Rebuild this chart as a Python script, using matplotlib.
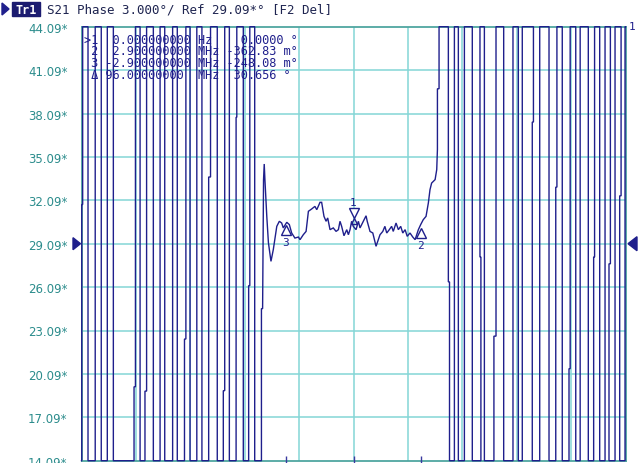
import numpy as np
import matplotlib
matplotlib.use("Agg")
import matplotlib.pyplot as plt
from matplotlib.patches import Polygon, Rectangle
from matplotlib.transforms import offset_copy

# ---------------- data ----------------
ref_deg = 29.09
scale_deg = 3.0
n_div = 10
span_mhz = 23.4
y_top = ref_deg + 5 * scale_deg   # 44.09
y_bot = ref_deg - 5 * scale_deg   # 14.09
ytick_values = [14.09, 17.09, 20.09, 23.09, 26.09, 29.09, 32.09, 35.09, 38.09, 41.09, 44.09]
ytick_labels = ["14.09*", "17.09*", "20.09*", "23.09*", "26.09*", "29.09*",
                "32.09*", "35.09*", "38.09*", "41.09*", "44.09*"]

nan = float("nan")
# out-of-band region (left): phase wraps, trace clipped at the screen edges
left_f_low = [-11.69, -11.42, -11.11, -10.85, -10.59, -10.33, -9.44, -9.18, -8.97, -8.61,
              -8.32, -8.12, -7.78, -7.58, -7.27, -7.03, -6.74, -6.52, -6.23, -5.86,
              -5.60, -5.34, -5.05, -4.74, -4.51, -4.25]
left_f_high = [-11.65, -11.42, -11.11, -10.85, -10.59, -10.33, -9.38, -9.18, -8.90, -8.61,
               -8.32, -8.12, -7.78, -7.58, -7.21, -7.03, -6.74, -6.52, -6.15, -5.86,
               -5.54, -5.34, -5.02, -4.74, -4.46, -4.25]
left_step = [31.8, nan, nan, nan, nan, nan, 19.2, nan, 18.9, nan,
             nan, nan, nan, nan, 22.5, nan, nan, nan, 33.7, nan,
             18.93, nan, 37.83, nan, 26.19, nan]

# in-band part of the trace
band_f = [-3.96, -3.96, -3.91, -3.87, -3.84, -3.81, -3.73, -3.66, -3.55, -3.45,
          -3.30, -3.19, -3.09, -3.02, -2.87, -2.76, -2.66, -2.52, -2.37, -2.30,
          -2.16, -2.04, -1.99, -1.94, -1.80, -1.66, -1.58, -1.44, -1.37, -1.27,
          -1.18, -1.11, -1.01, -0.87, -0.75, -0.65, -0.58, -0.51, -0.41, -0.29,
          -0.22, -0.15, -0.08, -0.01, 0.11, 0.21, 0.28, 0.42, 0.54, 0.59,
          0.71, 0.83, 0.97, 1.07, 1.14, 1.26, 1.35, 1.43, 1.54, 1.64,
          1.71, 1.83, 1.93, 2.03, 2.12, 2.22, 2.31, 2.43, 2.55, 2.65,
          2.72, 2.79, 2.89, 3.00, 3.12, 3.22, 3.29, 3.36, 3.51, 3.58,
          3.61, 3.61, 3.68, 3.68]
band_deg = [14.09, 24.6, 24.6, 33.5, 34.6, 33.5, 30.98, 29.16, 27.87, 28.68,
            30.29, 30.64, 30.52, 30.18, 30.57, 30.41, 29.83, 29.48, 29.55, 29.37,
            29.71, 29.94, 30.64, 31.33, 31.49, 31.67, 31.44, 31.95, 31.95, 30.98,
            30.64, 30.87, 30.06, 30.18, 29.94, 30.06, 30.64, 30.29, 29.64, 30.06,
            29.71, 30.06, 30.64, 30.29, 30.06, 30.64, 30.18, 30.64, 31.02, 30.64,
            29.94, 29.83, 28.91, 29.37, 29.71, 29.94, 30.29, 29.83, 30.06, 30.29,
            29.94, 30.52, 30.06, 30.29, 29.83, 30.06, 29.60, 29.83, 29.55, 29.37,
            29.71, 30.06, 30.41, 30.75, 30.98, 31.91, 32.82, 33.28, 33.52, 34.21,
            35.6, 39.8, 39.8, 44.09]

# out-of-band region (right)
right_f_low = [4.13, 4.34, 4.51, 4.77, 5.11, 5.48, 5.63, 6.04, 6.46, 6.86,
               7.09, 7.26, 7.69, 8.01, 8.41, 8.70, 8.98, 9.27, 9.56, 9.75,
               10.10, 10.33, 10.59, 10.82, 10.99, 11.25, 11.45, 11.68]
right_f_high = [4.08, 4.34, 4.51, 4.77, 5.11, 5.44, 5.63, 6.13, 6.46, 6.86,
                7.09, 7.26, 7.74, 8.01, 8.41, 8.75, 8.98, 9.32, 9.56, 9.75,
                10.10, 10.37, 10.59, 10.82, 11.05, 11.25, 11.51, 11.68]
right_step = [26.45, nan, nan, nan, nan, 28.17, nan, 22.7, nan, nan,
              nan, nan, 37.5, nan, nan, 33.0, nan, 20.45, nan, nan,
              nan, 28.17, nan, nan, 27.7, nan, 32.4, nan]

marker_names = ["1", "2", "3"]
marker_f = [0.0, 2.9, -2.9]
marker_deg = [30.29, 30.41, 30.57]

readout_rows = [">1  0.000000000 Hz    0.0000 \u00b0",
                " 2  2.900000000 MHz -362.83 m\u00b0",
                " 3 -2.900000000 MHz -248.08 m\u00b0",
                " \u0394 96.00000000  MHz  30.656 \u00b0"]
header_text = "S21 Phase 3.000\u00b0/ Ref 29.09*\u00b0 [F2 Del]"

# ---------------- build trace ----------------
def wraps(f_low, f_high, step, level):
    xs, ys = [], []
    for fl, fh, s in zip(f_low, f_high, step):
        if level == "bot":
            xs.append(fl); ys.append(y_bot)
            if not np.isnan(s):
                xs += [fl, fh]; ys += [s, s]
            xs.append(fh); ys.append(y_top)
            level = "top"
        else:
            xs.append(fh); ys.append(y_top)
            if not np.isnan(s):
                xs += [fh, fl]; ys += [s, s]
            xs.append(fl); ys.append(y_bot)
            level = "bot"
    return xs, ys

x_min, x_max = -span_mhz / 2, span_mhz / 2
lx, ly = wraps(left_f_low, left_f_high, left_step, "bot")
rx, ry = wraps(right_f_low, right_f_high, right_step, "top")
trace_f = [x_min] + lx + band_f + rx + [x_max]
trace_v = [y_bot] + ly + band_deg + ry + [y_top]

# ---------------- draw ----------------
W, H = 639, 464
fig = plt.figure(figsize=(W / 100, H / 100), dpi=100)
fig.patch.set_facecolor("white")

L, R, T, B = 81.5, 625.5, 27.7, 461.7
ax = fig.add_axes([L / W, 1 - B / H, (R - L) / W, (B - T) / H])
ax.set_facecolor("white")
ax.set_xlim(x_min, x_max)
ax.set_ylim(y_bot, y_top)

grid_c = "#84d6d6"
for k in range(1, n_div):
    ax.axvline(x_min + k * span_mhz / n_div, color=grid_c, lw=1.1, zorder=1)
    ax.axhline(y_bot + k * scale_deg, color=grid_c, lw=1.1, zorder=1)

for s in ax.spines.values():
    s.set_color("#4fa6a0")
    s.set_linewidth(1.3)

navy = "#1f1f8c"
ax.plot(trace_f, trace_v, color=navy, lw=1.0, zorder=3, clip_on=False,
        solid_joinstyle="miter")

ax.set_xticks([])
ax.set_yticks(ytick_values)
ax.set_yticklabels(ytick_labels)
ax.tick_params(axis="y", length=0, pad=10, labelcolor="#2b8c8c", labelsize=8.5)

# markers
mono = "DejaVu Sans Mono"
for name, f, v in zip(marker_names, marker_f, marker_deg):
    if name == "1":
        tr = offset_copy(ax.transData, fig=fig, x=0, y=13, units="dots")
        ax.plot([f], [v], transform=tr, marker="v", ms=7, mfc="white", mec=navy, mew=1.0,
                zorder=5, clip_on=False)
        tr2 = offset_copy(ax.transData, fig=fig, x=0, y=5, units="dots")
        ax.plot([f], [v], transform=tr2, marker="^", ms=5, mfc="none", mec=navy, mew=1.0,
                zorder=5, clip_on=False)
        ax.text(f, v, name, transform=offset_copy(ax.transData, fig=fig, x=0, y=24, units="dots"),
                ha="center", va="center", fontsize=8, family=mono, color=navy, zorder=6)
    else:
        tr = offset_copy(ax.transData, fig=fig, x=0, y=-8, units="dots")
        ax.plot([f], [v], transform=tr, marker="^", ms=7, mfc="white", mec=navy, mew=1.0,
                zorder=5, clip_on=False)
        ax.text(f, v, name, transform=offset_copy(ax.transData, fig=fig, x=0, y=-20, units="dots"),
                ha="center", va="center", fontsize=8, family=mono, color=navy, zorder=6)
    ax.plot([f], [y_bot], marker="|", ms=7, mew=1.0, color="#3a3aa0", clip_on=False, zorder=4)

# marker readout table
for i, row in enumerate(readout_rows):
    fig.text(84 / W, 1 - (40 + i * 11.8) / H, row, family=mono, fontsize=8.6,
             color=navy, ha="left", va="center", zorder=7)

def fx(x):
    return x / W

def fy(y):
    return 1 - y / H

# header
fig.patches.append(Polygon([[fx(2), fy(4)], [fx(2), fy(16)], [fx(9), fy(10)]],
                           closed=True, transform=fig.transFigure, color=navy))
fig.patches.append(Rectangle((fx(12), fy(17)), fx(28), 14 / H, transform=fig.transFigure,
                             color="#1c1c70"))
fig.text(fx(26), fy(10), "Tr1", family=mono, fontsize=8.5, fontweight="bold",
         color="white", ha="center", va="center")
fig.text(fx(47), fy(10), header_text, family=mono, fontsize=9, color="#1e2450",
         ha="left", va="center")

# reference level arrows
ry_px = B - (ref_deg - y_bot) / (y_top - y_bot) * (B - T)
fig.patches.append(Polygon([[fx(73), fy(ry_px - 6)], [fx(73), fy(ry_px + 6)], [fx(80.5), fy(ry_px)]],
                           closed=True, transform=fig.transFigure, color=navy))
fig.patches.append(Polygon([[fx(637), fy(ry_px - 7)], [fx(637), fy(ry_px + 7)], [fx(628), fy(ry_px)]],
                           closed=True, transform=fig.transFigure, color=navy))
fig.text(fx(629), fy(27), "1", family=mono, fontsize=8, color=navy, ha="left", va="center")

fig.savefig("out.png", dpi=100, facecolor="white")
